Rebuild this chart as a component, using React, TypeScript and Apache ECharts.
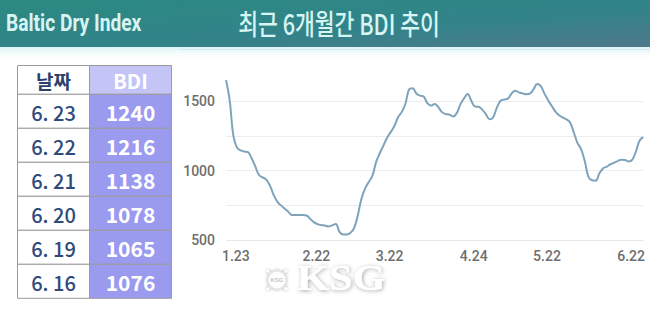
import React, { useEffect, useRef } from "react";
import * as echarts from "echarts";

// ---- data ----
const DATES: string[] = [
  "1.16","1.17","1.18","1.19","1.20","1.23","1.24","1.25","1.26","1.27","1.30","1.31",
  "2.1","2.2","2.3","2.6","2.7","2.8","2.9","2.10","2.13","2.14","2.15","2.16","2.17","2.20","2.21","2.22","2.23","2.24","2.27","2.28",
  "3.1","3.2","3.3","3.6","3.7","3.8","3.9","3.10","3.13","3.14","3.15","3.16","3.17","3.20","3.21","3.22","3.23","3.24","3.27","3.28","3.29","3.30","3.31",
  "4.3","4.4","4.5","4.6","4.7","4.10","4.11","4.12","4.13","4.14","4.17","4.18","4.19","4.20","4.21","4.24","4.25","4.26","4.27","4.28",
  "5.1","5.2","5.3","5.4","5.5","5.8","5.9","5.10","5.11","5.12","5.15","5.16","5.17","5.18","5.19","5.22","5.23","5.24","5.25","5.26","5.29","5.30","5.31",
  "6.1","6.2","6.5","6.6","6.7","6.8","6.9","6.12","6.13","6.14","6.15","6.16","6.19","6.20","6.21","6.22","6.23",
];

const BDI_VALUES: number[] = [
  1651, 1506, 1253, 1165, 1145, 1137, 1132, 1088, 1029, 968, 950, 934,
  891, 825, 776, 749, 727, 704, 680, 680, 680, 680, 676, 652, 629, 614, 607, 604, 597, 605, 615, 558,
  540, 540, 552, 586, 676, 797, 870, 917, 963, 1060, 1124, 1179, 1236, 1276, 1320, 1383, 1420, 1478, 1583, 1592, 1554,
  1539, 1533, 1484, 1467, 1478, 1456, 1420, 1406, 1403, 1389, 1411, 1474, 1518, 1550, 1503, 1460, 1459, 1438, 1406,
  1368, 1383, 1453, 1502, 1510, 1517, 1553, 1574, 1562, 1555, 1549, 1553, 1583, 1622, 1607, 1553, 1506, 1464, 1424,
  1398, 1381, 1368, 1345, 1275, 1199, 1154, 1069, 955, 930, 927, 979, 1015, 1027, 1045, 1055, 1068, 1078,
  1076, 1065, 1078, 1138, 1216, 1240,
];

const X_LABELS: string[] = ["1.23", "2.22", "3.22", "4.24", "5.22", "6.22"];
const Y_LABELS: number[] = [500, 1000, 1500];

const TABLE_HEAD: string[] = ["날짜", "BDI"];
const TABLE_DATES: string[] = ["6. 23", "6. 22", "6. 21", "6. 20", "6. 19", "6. 16"];
const TABLE_BDI: number[] = [1240, 1216, 1138, 1078, 1065, 1076];

const LEFT_TITLE = "Baltic Dry Index";
const MAIN_TITLE = "최근 6개월간 BDI 추이";
const LOGO_TEXT = "KSG";

export default function App() {
  const ref = useRef<HTMLDivElement>(null);

  useEffect(() => {
    if (!ref.current) return;
    const chart = echarts.init(ref.current, undefined, { renderer: "svg" });

    // table graphics
    const tx0 = 17.5, tx1 = 89.5, tx2 = 171.5;
    const ty0 = 65.5, headH = 28.8, rowH = 34;
    const border = "#9c9c9c";
    const tableEls: any[] = [];
    // header
    tableEls.push({
      type: "rect",
      shape: { x: tx0, y: ty0, width: tx1 - tx0, height: headH },
      style: { fill: "#ffffff", stroke: border, lineWidth: 1 },
    });
    tableEls.push({
      type: "rect",
      shape: { x: tx1, y: ty0, width: tx2 - tx1, height: headH },
      style: { fill: "#c4c4f6", stroke: border, lineWidth: 1 },
    });
    tableEls.push({
      type: "text",
      x: (tx0 + tx1) / 2,
      y: ty0 + headH / 2 + 1,
      style: {
        text: TABLE_HEAD[0],
        fill: "#2c3f6c",
        font: 'bold 19px "Noto Sans CJK KR"',
        align: "center",
        verticalAlign: "middle",
      },
    });
    tableEls.push({
      type: "text",
      x: (tx1 + tx2) / 2,
      y: ty0 + headH / 2 + 1,
      style: {
        text: TABLE_HEAD[1],
        fill: "#ffffff",
        font: 'bold 20px "Noto Sans CJK KR"',
        align: "center",
        verticalAlign: "middle",
      },
    });
    TABLE_DATES.forEach((d, i) => {
      const y = ty0 + headH + i * rowH;
      tableEls.push({
        type: "rect",
        shape: { x: tx0, y, width: tx1 - tx0, height: rowH },
        style: { fill: "#ffffff", stroke: border, lineWidth: 1 },
      });
      tableEls.push({
        type: "rect",
        shape: { x: tx1, y, width: tx2 - tx1, height: rowH },
        style: { fill: "#9a9aef", stroke: border, lineWidth: 1 },
      });
      tableEls.push({
        type: "text",
        x: (tx0 + tx1) / 2,
        y: y + rowH / 2 + 1,
        style: {
          text: d,
          fill: "#2e4a7c",
          font: '500 20px "Noto Sans CJK KR"',
          align: "center",
          verticalAlign: "middle",
        },
      });
      tableEls.push({
        type: "text",
        x: (tx1 + tx2) / 2,
        y: y + rowH / 2 + 1,
        style: {
          text: String(TABLE_BDI[i]),
          fill: "#ffffff",
          font: 'bold 21px "Noto Sans CJK KR"',
          align: "center",
          verticalAlign: "middle",
        },
      });
    });

    // logo wheel spokes
    const cx = 277, cy = 280;
    const spokes: any[] = [];
    for (let k = 0; k < 8; k++) {
      const a = (k * Math.PI) / 4;
      spokes.push({
        type: "line",
        shape: {
          x1: cx + Math.cos(a) * 9,
          y1: cy + Math.sin(a) * 9,
          x2: cx + Math.cos(a) * 14,
          y2: cy + Math.sin(a) * 14,
        },
        style: { stroke: "#ffffff", lineWidth: 2.5, shadowBlur: 3, shadowColor: "rgba(0,0,0,0.35)" },
      });
    }

    const option: any = {
      animation: false,
      backgroundColor: "#ffffff",
      grid: { left: 226, right: 6.7, top: 66.25, bottom: 71, containLabel: false },
      xAxis: {
        type: "category",
        data: DATES,
        boundaryGap: false,
        axisLine: { show: false },
        axisTick: { show: false },
        splitLine: { show: false },
        axisLabel: {
          interval: (_i: number, v: string) => X_LABELS.includes(v),
          color: "#6e6e6e",
          fontFamily: "Roboto",
          fontWeight: 500,
          fontSize: 14,
          margin: 9,
          padding: [0, 17, 0, 0],
        },
      },
      yAxis: {
        type: "value",
        min: 500,
        max: 1750,
        interval: 250,
        axisLine: { show: false },
        axisTick: { show: false },
        splitLine: {
          show: true,
          lineStyle: {
            color: ["#e6e6e6", "#ededed", "#ededed", "#ededed", "#ededed", "rgba(0,0,0,0)"],
            width: 1,
          },
        },
        axisLabel: {
          color: "#6e6e6e",
          fontFamily: "Roboto",
          fontWeight: 500,
          fontSize: 14,
          margin: 11,
          formatter: (v: number) => (Y_LABELS.includes(v) ? String(v) : ""),
        },
      },
      series: [
        {
          type: "line",
          data: BDI_VALUES,
          smooth: 0.4,
          symbol: "none",
          lineStyle: { color: "#7fa3bb", width: 2 },
        },
      ],
      graphic: [
        {
          type: "rect",
          shape: { x: 0, y: 0, width: 650, height: 47 },
          style: {
            fill: new echarts.graphic.LinearGradient(0, 0, 1, 1, [
              { offset: 0, color: "#2a8a81" },
              { offset: 0.6, color: "#33838a" },
              { offset: 1, color: "#4f788c" },
            ]),
          },
        },
        {
          type: "rect",
          shape: { x: 0, y: 47, width: 650, height: 14 },
          style: {
            fill: new echarts.graphic.LinearGradient(0, 0, 0, 1, [
              { offset: 0, color: "rgba(205,238,240,0.7)" },
              { offset: 1, color: "rgba(255,255,255,0)" },
            ]),
          },
        },
        {
          type: "line",
          shape: { x1: 180, y1: 49.5, x2: 650, y2: 49.5 },
          style: { stroke: "#d6e9ec", lineWidth: 1 },
        },
        {
          type: "text",
          x: 6,
          y: 23,
          scaleX: 0.8,
          style: {
            text: LEFT_TITLE,
            fill: "#d8f4f2",
            font: 'bold 24px "Roboto"',
            align: "left",
            verticalAlign: "middle",
          },
        },
        {
          type: "text",
          x: 339,
          y: 23,
          scaleX: 0.77,
          style: {
            text: MAIN_TITLE,
            fill: "#d6f5f3",
            font: '500 28px "Noto Sans CJK KR"',
            align: "center",
            verticalAlign: "middle",
          },
        },
        ...tableEls,
        ...spokes,
        {
          type: "circle",
          shape: { cx, cy, r: 9 },
          style: {
            fill: "#ffffff",
            stroke: "#e4e4e4",
            lineWidth: 1.5,
            shadowBlur: 3,
            shadowColor: "rgba(0,0,0,0.35)",
          },
        },
        {
          type: "text",
          x: cx,
          y: cy,
          style: {
            text: LOGO_TEXT,
            fill: "#c4c4c4",
            font: "bold 6px sans-serif",
            align: "center",
            verticalAlign: "middle",
          },
        },
        {
          type: "text",
          x: 341,
          y: 278,
          scaleX: 1.2,
          style: {
            text: LOGO_TEXT,
            fill: "#ffffff",
            font: 'bold 35px "Liberation Serif"',
            align: "center",
            verticalAlign: "middle",
            textShadowColor: "rgba(0,0,0,0.35)",
            textShadowBlur: 4,
            textShadowOffsetX: 1,
            textShadowOffsetY: 1,
          },
        },
      ],
    };

    chart.setOption(option);
    return () => chart.dispose();
  }, []);

  return (
    <div
      ref={ref}
      style={{ position: "fixed", left: 0, top: 0, width: 650, height: 311 }}
    />
  );
}
